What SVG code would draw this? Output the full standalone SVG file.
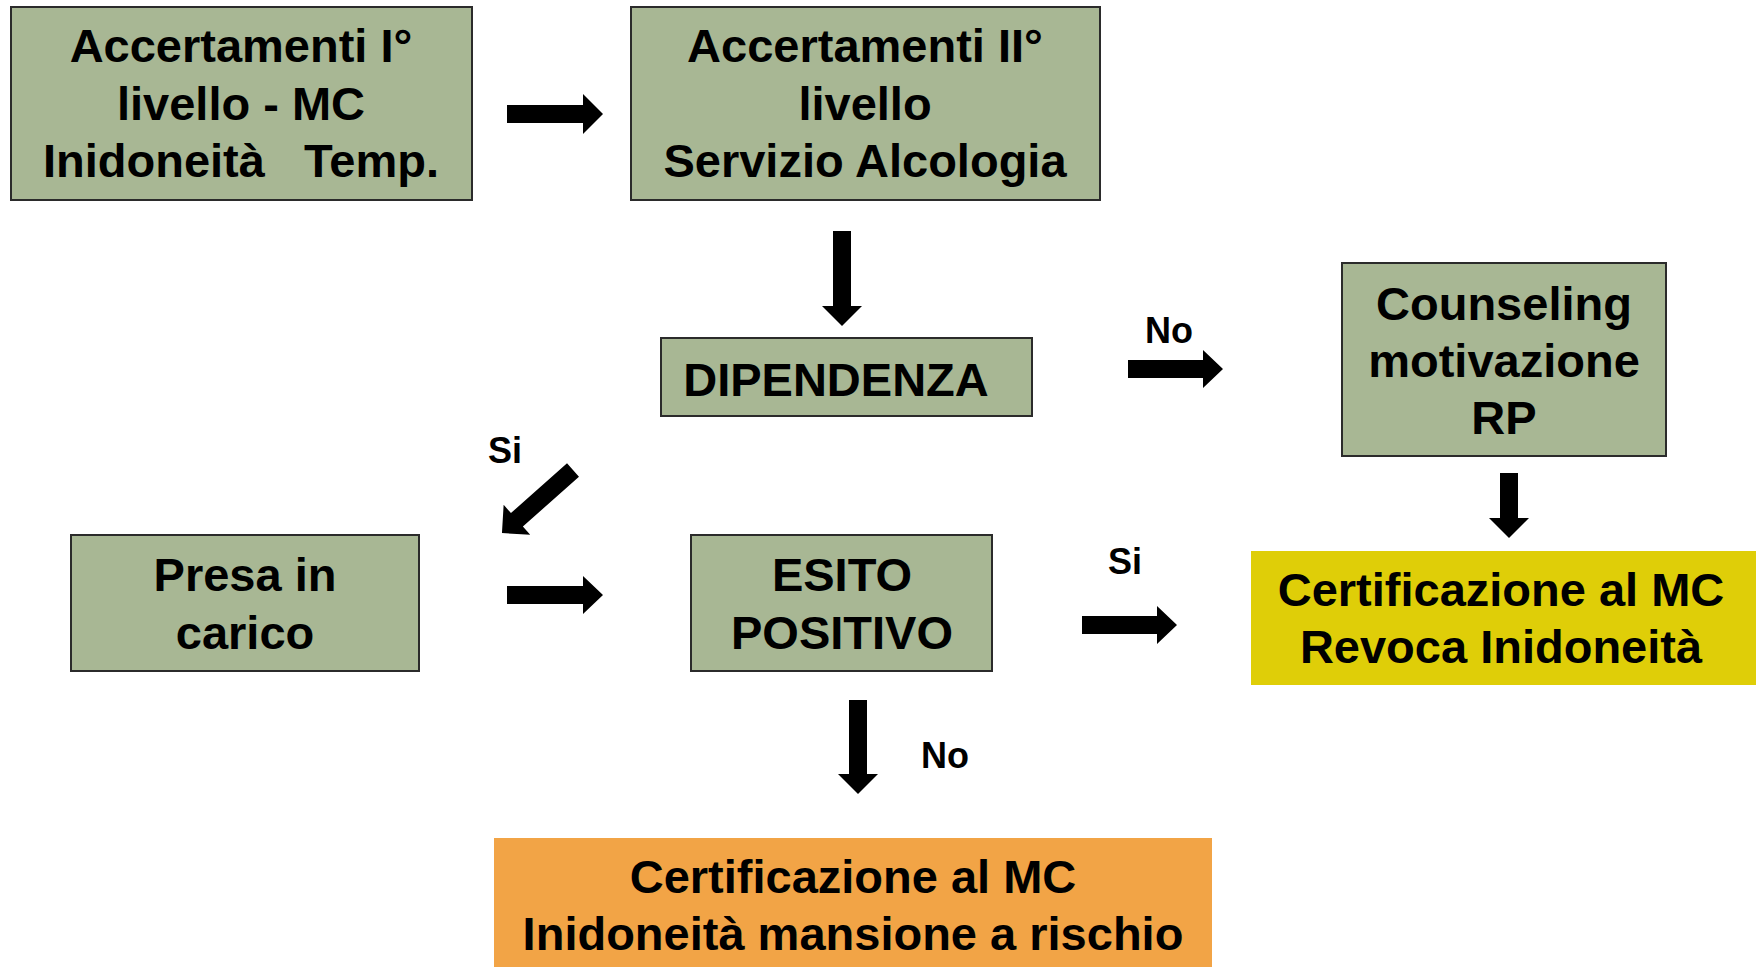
<svg xmlns="http://www.w3.org/2000/svg" width="1756" height="967" viewBox="0 0 1756 967">
<style>
.box{fill:#A8B794;stroke:#2b2b2b;stroke-width:2}
.t{font-family:"Liberation Sans",Arial,sans-serif;font-weight:bold;font-size:47px;fill:#000;text-anchor:middle}
.lb{font-family:"Liberation Sans",Arial,sans-serif;font-weight:bold;font-size:36px;fill:#000;text-anchor:middle}
.arr{fill:#000}
</style>
<rect width="1756" height="967" fill="#fff"/>
<g id="n1"><rect class="box" x="11" y="7" width="461" height="193"/>
<text class="t" x="241" y="62">Accertamenti I°</text>
<text class="t" x="241" y="120">livello - MC</text>
<text class="t" x="241" y="177" xml:space="preserve">Inidoneità   Temp.</text></g>
<g id="n2"><rect class="box" x="631" y="7" width="469" height="193"/>
<text class="t" x="865" y="62">Accertamenti II°</text>
<text class="t" x="865" y="120">livello</text>
<text class="t" x="865" y="177">Servizio Alcologia</text></g>
<g id="n3"><rect class="box" x="661" y="338" width="371" height="78"/>
<text class="t" x="836" y="396">DIPENDENZA</text></g>
<g id="n4"><rect class="box" x="1342" y="263" width="324" height="193"/>
<text class="t" x="1504" y="320">Counseling</text>
<text class="t" x="1504" y="377">motivazione</text>
<text class="t" x="1504" y="434">RP</text></g>
<g id="n5"><rect class="box" x="71" y="535" width="348" height="136"/>
<text class="t" x="245" y="591">Presa in</text>
<text class="t" x="245" y="649">carico</text></g>
<g id="n6"><rect class="box" x="691" y="535" width="301" height="136"/>
<text class="t" x="842" y="591">ESITO</text>
<text class="t" x="842" y="649">POSITIVO</text></g>
<g id="n7"><rect x="1251" y="551" width="505" height="134" fill="#DFCE08"/>
<text class="t" x="1501" y="606">Certificazione al MC</text>
<text class="t" x="1501" y="663">Revoca Inidoneità</text></g>
<g id="n8"><rect x="494" y="838" width="718" height="130" fill="#F2A446"/>
<text class="t" x="853" y="893">Certificazione al MC</text>
<text class="t" x="853" y="950">Inidoneità mansione a rischio</text></g>
<g id="connectors">
<polygon class="arr" points="507,105 583,105 583,94 603,114 583,134 583,123 507,123"/>
<polygon class="arr" points="833,231 851,231 851,306 862,306 842,326 822,306 833,306"/>
<polygon class="arr" points="1128,360 1203,360 1203,350 1223,369 1203,388 1203,378 1128,378"/>
<polygon class="arr" points="1500,473 1518,473 1518,518 1529,518 1509,538 1489,518 1500,518"/>
<g transform="translate(573,470) rotate(138.4)"><polygon class="arr" points="0,-9 75,-9 75,-20 95,0 75,20 75,9 0,9"/></g>
<polygon class="arr" points="507,586 583,586 583,576 603,595 583,614 583,604 507,604"/>
<polygon class="arr" points="1082,616 1157,616 1157,606 1177,625 1157,644 1157,634 1082,634"/>
<polygon class="arr" points="849,700 867,700 867,774 878,774 858,794 838,774 849,774"/>
<text class="lb" x="1169" y="343">No</text>
<text class="lb" x="505" y="463">Si</text>
<text class="lb" x="1125" y="574">Si</text>
<text class="lb" x="945" y="768">No</text>
</g>
</svg>
